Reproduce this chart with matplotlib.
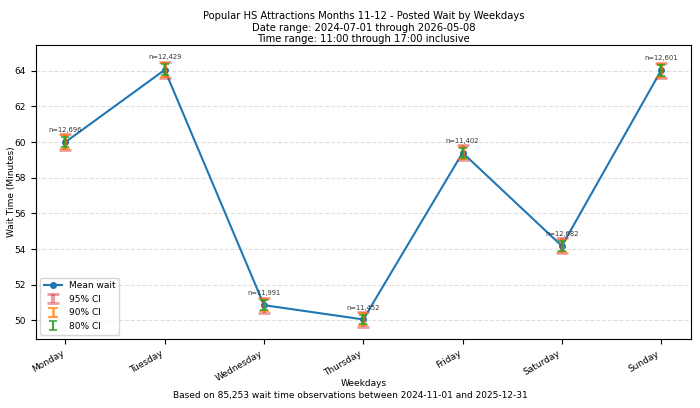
import matplotlib
matplotlib.use("Agg")
import matplotlib.pyplot as plt
import numpy as np

days = ["Monday", "Tuesday", "Wednesday", "Thursday", "Friday", "Saturday", "Sunday"]
mean_wait = [60.0, 64.05, 50.85, 50.05, 59.4, 54.17, 64.02]
counts = [12696, 12429, 11991, 11452, 11402, 12682, 12601]
ci95 = [0.45, 0.46, 0.42, 0.40, 0.41, 0.42, 0.44]
ci90 = [0.38, 0.39, 0.35, 0.34, 0.35, 0.35, 0.37]
ci80 = [0.29, 0.30, 0.27, 0.26, 0.27, 0.27, 0.29]

fig = plt.figure(figsize=(7, 4.08), dpi=100)
ax = fig.add_axes([0.051, 0.169, 0.936, 0.721])

x = np.arange(len(days))
ax.plot(x, mean_wait, "-o", color="tab:blue", lw=1.5, ms=4, label="Mean wait", zorder=2)
ax.errorbar(x, mean_wait, yerr=ci95, fmt="none", ecolor="tab:red", alpha=0.45,
            elinewidth=3, capsize=4, capthick=2, label="95% CI", zorder=3)
ax.errorbar(x, mean_wait, yerr=ci90, fmt="none", ecolor="tab:orange", alpha=0.7,
            elinewidth=2, capsize=3.5, capthick=1.5, label="90% CI", zorder=4)
ax.errorbar(x, mean_wait, yerr=ci80, fmt="none", ecolor="tab:green", alpha=0.9,
            elinewidth=1.5, capsize=3, capthick=1.2, label="80% CI", zorder=5)

for xi, m, c, n in zip(x, mean_wait, ci95, counts):
    ax.annotate(f"n={n:,}", (xi, m + c), xytext=(0, 1), textcoords="offset points",
                ha="center", va="bottom", fontsize=4.9, color="#333333")

ax.set_xticks(x)
ax.set_xticklabels(days, rotation=30, ha="right", fontsize=6.5)
ax.tick_params(axis="y", labelsize=6.5)
ax.set_ylabel("Wait Time (Minutes)", fontsize=6.5, labelpad=-1)
ax.set_xlabel("Weekdays", fontsize=6.5, labelpad=-3)
ax.grid(axis="y", linestyle="--", alpha=0.4)
ax.set_ylim(48.95, 65.45)

ax.set_title("Popular HS Attractions Months 11-12 - Posted Wait by Weekdays\n"
             "Date range: 2024-07-01 through 2026-05-08\n"
             "Time range: 11:00 through 17:00 inclusive", fontsize=7.2, pad=2)
ax.legend(loc="lower left", fontsize=6.5)

fig.text(0.5, 0.03, "Based on 85,253 wait time observations between 2024-11-01 and 2025-12-31",
         ha="center", va="center", fontsize=6.5)

fig.savefig("out.png", dpi=100)
